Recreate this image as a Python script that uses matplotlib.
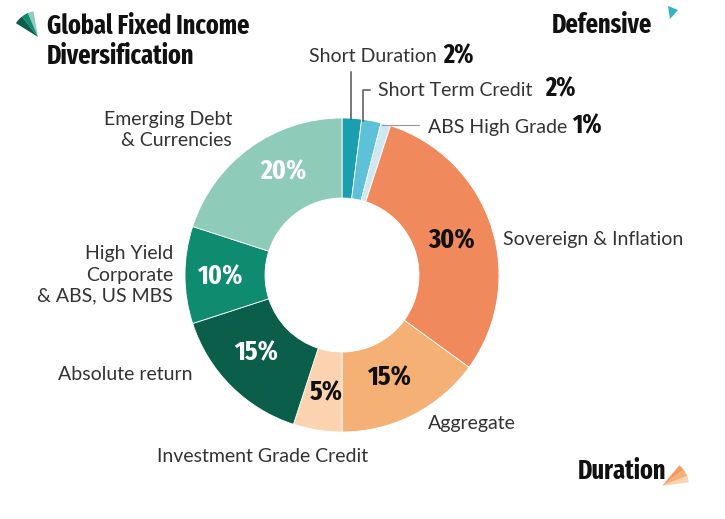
import matplotlib
matplotlib.use("Agg")
import matplotlib.pyplot as plt
from matplotlib.patches import Wedge, Polygon
import logging
logging.getLogger("matplotlib.font_manager").setLevel(logging.ERROR)

W, H = 725, 519

categories = ["Short Duration", "Short Term Credit", "ABS High Grade",
              "Sovereign & Inflation", "Aggregate", "Investment Grade Credit",
              "Absolute return", "High Yield\nCorporate\n& ABS, US MBS",
              "Emerging Debt\n& Currencies"]
values = [2, 2, 1, 30, 15, 5, 15, 10, 20]
colors = ["#1a9fb1", "#5cc1d9", "#cfe7f2", "#f08a5c", "#f5b075", "#fbd3b1",
          "#0b5f4a", "#0f8b6f", "#8ecbb8"]
pct_labels = ["2%", "2%", "1%", "30%", "15%", "5%", "15%", "10%", "20%"]

NARROW = ["Fira Sans Extra Condensed", "Barlow Condensed", "Roboto Condensed",
          "Asap Condensed", "Oswald", "DejaVu Sans"]
LBL = ["Lato", "DejaVu Sans"]

fig = plt.figure(figsize=(W / 100, H / 100), dpi=100)
ax = fig.add_axes([0, 0, 1, 1])


def P(x, y):
    return x, H - y


cx, cy = P(342, 275)
ax.pie(values, colors=colors, startangle=90, counterclock=False,
       center=(cx, cy), radius=157,
       wedgeprops=dict(width=80, edgecolor="white", linewidth=0.6))
ax.set_xlim(0, W)
ax.set_ylim(0, H)
ax.set_aspect("equal")
ax.axis("off")

# inner percentage labels
inner = {3: (452, 241, "#111111"), 4: (389, 378, "#111111"), 5: (326, 393, "#111111"),
         6: (256, 353, "white"), 7: (220, 277, "white"), 8: (283, 172, "white")}
for i, (x, y, c) in inner.items():
    ax.text(*P(x, y), pct_labels[i], ha="center", va="center", color=c,
            fontsize=20, fontweight="bold", family=NARROW)


def lbl(x, y, s, ha="left", **kw):
    ax.text(*P(x, y), s, ha=ha, va="center", color="#333333",
            fontsize=14, family=LBL, linespacing=1.3, **kw)


def pct(x, y, s):
    ax.text(*P(x, y), s, ha="left", va="center", fontsize=19,
            fontweight="bold", family=NARROW, color="#111111")


lbl(437, 57, categories[0], ha="right")
pct(443, 56, pct_labels[0])
lbl(378, 90, categories[1])
pct(545, 89, pct_labels[1])
lbl(567, 127, categories[2], ha="right")
pct(572, 126, pct_labels[2])
lbl(503, 240, categories[3])
lbl(428, 424, categories[4])
lbl(157, 457, categories[5])
lbl(193, 375, categories[6], ha="right")
lbl(173, 275, categories[7], ha="right", multialignment="right")
lbl(232, 130, categories[8], ha="right", multialignment="right")

# leader lines
lc = "#555555"
ax.plot(*zip(P(351, 72), P(351, 119)), color=lc, lw=1.1)
ax.plot(*zip(P(370, 90), P(363, 90), P(363, 121)), color=lc, lw=1.1)
ax.plot(*zip(P(382, 125), P(419, 125)), color="#999999", lw=0.8)

# titles
ax.text(*P(47, 41), "Global Fixed Income\nDiversification", ha="left", va="center",
        fontsize=19, fontweight="bold", family=NARROW, color="#111111",
        linespacing=1.15)
ax.text(*P(652, 25), "Defensive", ha="right", va="center", fontsize=19,
        fontweight="bold", family=NARROW, color="#111111")
ax.text(*P(578, 471), "Duration", ha="left", va="center", fontsize=19,
        fontweight="bold", family=NARROW, color="#111111")

# small decorative icons
ic = P(38, 37)
for a0, a1, c in [(100, 113, "#8ecbb8"), (113, 128, "#0f8b6f"), (128, 148, "#0b5f4a")]:
    ax.add_patch(Wedge(ic, 26, a0, a1, facecolor=c, edgecolor="none"))
ax.add_patch(Polygon([P(668, 6), P(678, 10), P(670, 19)], closed=True,
                     facecolor="#35b3c6", edgecolor="none"))
dc = P(662, 486)
for a0, a1, c in [(8, 22, "#fbd3b1"), (22, 37, "#f5b075"), (37, 50, "#f29a62")]:
    ax.add_patch(Wedge(dc, 27, a0, a1, facecolor=c, edgecolor="none"))

fig.savefig("out.png", dpi=100, facecolor="white")
